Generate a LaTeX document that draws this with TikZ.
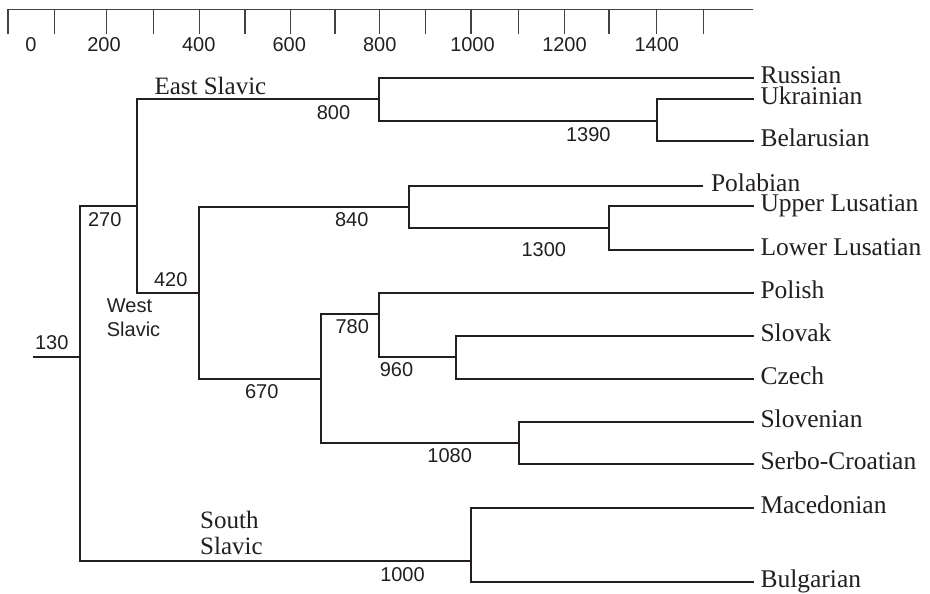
\documentclass[tikz,border=0pt]{standalone}
\usepackage{fontspec}
\newfontfamily\numfont{Liberation Sans}
\newfontfamily\serfont{Liberation Serif}
\definecolor{ink}{HTML}{231F20}
\tikzset{
  tree/.style={draw=ink, line width=1.8pt, line cap=rect},
  axisline/.style={draw=ink!85, line width=1.1pt},
  num/.style={font=\numfont\fontsize{20}{24.4}\selectfont, text=ink, inner sep=0pt, anchor=base},
  lbl/.style={font=\serfont\fontsize{25}{25.7}\selectfont, text=ink, inner sep=0pt, anchor=base west},
  leaf/.style={font=\serfont\fontsize{25.5}{26}\selectfont, text=ink, anchor=west, inner xsep=7.5pt, inner ysep=0pt, outer sep=0pt, text height=14.5pt, text depth=3.5pt},
}
\begin{document}
\begin{tikzpicture}[x=1pt,y=-1pt]
\useasboundingbox (0,0) rectangle (930,594);
% axis
\coordinate (axL) at (8,9.5);
\coordinate (axR) at (753.3,9.5);
\draw[axisline] (axL) -- (axR);
\foreach \t in {8,54.7,106.7,153.7,199.3,245,290.7,335,379.3,425.7,471,518.7,564.3,609,656.3,703.3}
  \draw[axisline] (\t,9.5) -- (\t,34);
\foreach \xx/\lab in {31/0,104/200,198.8/400,289.3/600,379.7/800,472.5/1000,564.5/1200,656.8/1400}
  \node[num] (ax\lab) at (\xx,51.7) {\lab};
% internal nodes
\coordinate (root) at (34,357);
\coordinate (n130) at (80,357);
\coordinate (n270) at (137,206);
\coordinate (n800) at (379,99);
\coordinate (n1390) at (657,121);
\coordinate (n420) at (199,293);
\coordinate (n840) at (409,207);
\coordinate (n1300) at (609,228);
\coordinate (n670) at (321,379);
\coordinate (n780) at (379,314);
\coordinate (n960) at (456,357);
\coordinate (n1080) at (519,443);
\coordinate (n1000) at (471,561);
% leaves
\node[leaf] (rus) at (753,78) {Russian};
\node[leaf] (ukr) at (753,99) {Ukrainian};
\node[leaf] (bel) at (753,141) {Belarusian};
\node[leaf, inner xsep=9pt] (pol) at (702,186) {Polabian};
\node[leaf] (upp) at (753,206) {Upper Lusatian};
\node[leaf] (low) at (753,250) {Lower Lusatian};
\node[leaf] (pls) at (753,293) {Polish};
\node[leaf] (slk) at (753,336) {Slovak};
\node[leaf] (cze) at (753,379) {Czech};
\node[leaf] (sln) at (753,422) {Slovenian};
\node[leaf] (ser) at (753,464) {Serbo-Croatian};
\node[leaf] (mac) at (753,508) {Macedonian};
\node[leaf] (bul) at (753,582) {Bulgarian};
% connectors
\draw[tree] (root) -- (n130);
\draw[tree] (n130) |- (n270);
\draw[tree] (n130) |- (n1000);
\draw[tree] (n270) |- (n800);
\draw[tree] (n270) |- (n420);
\draw[tree] (n800) |- (rus.west);
\draw[tree] (n800) |- (n1390);
\draw[tree] (n1390) |- (ukr.west);
\draw[tree] (n1390) |- (bel.west);
\draw[tree] (n420) |- (n840);
\draw[tree] (n420) |- (n670);
\draw[tree] (n840) |- (pol.west);
\draw[tree] (n840) |- (n1300);
\draw[tree] (n1300) |- (upp.west);
\draw[tree] (n1300) |- (low.west);
\draw[tree] (n670) |- (n780);
\draw[tree] (n670) |- (n1080);
\draw[tree] (n780) |- (pls.west);
\draw[tree] (n780) |- (n960);
\draw[tree] (n960) |- (slk.west);
\draw[tree] (n960) |- (cze.west);
\draw[tree] (n1080) |- (sln.west);
\draw[tree] (n1080) |- (ser.west);
\draw[tree] (n1000) |- (mac.west);
\draw[tree] (n1000) |- (bul.west);
% branch labels
\node[num] (l130) at (51.7,349.3) {130};
\node[num] (l270) at (104.8,226.7) {270};
\node[num] (l800) at (333.5,119.3) {800};
\node[num] (l840) at (351.8,226.7) {840};
\node[num] (l420) at (170.8,286) {420};
\node[num] (l780) at (352.2,333.3) {780};
\node[num] (l960) at (396.5,376.7) {960};
\node[num] (l670) at (261.8,398.3) {670};
\node[num] (l1080) at (449.7,462.7) {1080};
\node[num] (l1390) at (588.3,141.7) {1390};
\node[num] (l1300) at (543.8,256.7) {1300};
\node[num] (l1000) at (402.5,581) {1000};
% group labels
\node[lbl] (east) at (154.3,94.3) {East Slavic};
\node[num, anchor=base west, align=left] (west) at (106.7,336.7) {West\\Slavic};
\node[lbl, align=left] (south) at (200,554) {South\\Slavic};
\end{tikzpicture}
\end{document}
